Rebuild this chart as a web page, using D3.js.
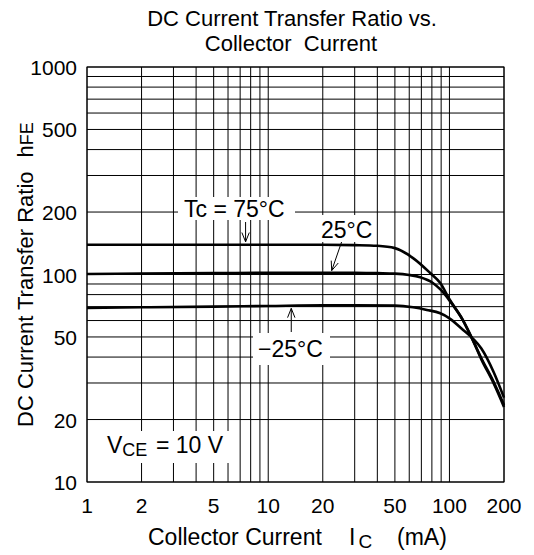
<!DOCTYPE html>
<html>
<head>
<meta charset="utf-8">
<script src="https://d3js.org/d3.v7.min.js"></script>
<style>
  html, body { margin: 0; padding: 0; background: #fff; }
  text { font-family: "Liberation Sans", Arial, sans-serif; fill: #000; }
</style>
</head>
<body>
<div id="chart"></div>
<script>
// collector current (mA) / hFE for each case temperature
const ic75  = [1, 2, 5, 10, 20, 30, 40, 50, 63, 78, 89, 100, 119, 135, 150, 175, 200];
const hfe75 = [139, 139, 139, 139, 139, 138.5, 137.5, 134, 120, 102, 91, 76, 60, 48, 39, 30, 23];

const ic25  = [1, 2, 5, 10, 20, 30, 40, 50, 60, 69, 81, 90, 100, 119, 135, 150, 175, 200];
const hfe25 = [100.5, 101, 101.5, 102, 102, 102, 101.5, 101, 99.5, 97, 91, 84, 75, 60, 48, 39.5, 30.5, 23.5];

const icM25  = [1, 2, 5, 10, 20, 30, 50, 63, 75, 89, 100, 119, 135, 150, 175, 200];
const hfeM25 = [69, 69.5, 70, 70.5, 71, 71, 70.8, 69.5, 67.5, 65, 61.5, 54, 49, 44, 34, 25.5];

const xTicks = [1, 2, 5, 10, 20, 50, 100, 200];
const yTicks = [10, 20, 50, 100, 200, 500, 1000];
const xGrid = [1, 2, 3, 4, 5, 6, 7, 8, 9, 10, 20, 30, 40, 50, 60, 70, 80, 90, 100, 200];
const yGrid = [10, 20, 30, 40, 50, 60, 70, 80, 90, 100, 200, 300, 400, 500, 600, 700, 800, 900, 1000];

const W = 534, H = 555;
const m = { left: 87, right: 30, top: 67, bottom: 73 };

const svg = d3.select('#chart').append('svg')
  .attr('width', W).attr('height', H);

const x = d3.scaleLog().domain([1, 200]).range([m.left, W - m.right]);
const y = d3.scaleLog().domain([10, 1000]).range([H - m.bottom, m.top]);

// grid
const grid = svg.append('g').attr('stroke', '#000').attr('stroke-width', 1);
grid.selectAll('.gx').data(xGrid).join('line')
  .attr('x1', d => x(d)).attr('x2', d => x(d))
  .attr('y1', y(10)).attr('y2', y(1000));
grid.selectAll('.gy').data(yGrid).join('line')
  .attr('y1', d => y(d)).attr('y2', d => y(d))
  .attr('x1', x(1)).attr('x2', x(200));
svg.append('rect')
  .attr('x', x(1)).attr('y', y(1000))
  .attr('width', x(200) - x(1)).attr('height', y(10) - y(1000))
  .attr('fill', 'none').attr('stroke', '#000');

// curves
const line = d3.line()
  .x(d => x(d[0])).y(d => y(d[1]))
  .curve(d3.curveMonotoneX);
const series = [
  d3.zip(ic75, hfe75),
  d3.zip(ic25, hfe25),
  d3.zip(icM25, hfeM25)
];
svg.append('g').selectAll('path').data(series).join('path')
  .attr('d', line)
  .attr('fill', 'none').attr('stroke', '#000').attr('stroke-width', 2.6);

// tick labels
svg.append('g').selectAll('text').data(yTicks).join('text')
  .attr('x', m.left - 10).attr('y', d => y(d) + 8)
  .attr('text-anchor', 'end').attr('font-size', 21)
  .text(d => d);
svg.append('g').selectAll('text').data(xTicks).join('text')
  .attr('x', d => x(d)).attr('y', 513)
  .attr('text-anchor', 'middle').attr('font-size', 21)
  .text(d => d);

// title
svg.append('text').attr('x', 292).attr('y', 26)
  .attr('text-anchor', 'middle').attr('font-size', 22)
  .text('DC Current Transfer Ratio vs.');
svg.append('text').attr('x', 291).attr('y', 51)
  .attr('text-anchor', 'middle').attr('font-size', 22)
  .attr('xml:space', 'preserve')
  .text('Collector  Current');

// axis titles
const xl = svg.append('text').attr('x', 148).attr('y', 545).attr('font-size', 23);
xl.append('tspan').text('Collector Current');
xl.append('tspan').attr('x', 349).text('I');
xl.append('tspan').attr('dx', 3).attr('dy', 3).attr('font-size', 19).text('C');
xl.append('tspan').attr('x', 397).attr('dy', -3).text('(mA)');

const yl = svg.append('text')
  .attr('transform', 'translate(33,427) rotate(-90)')
  .attr('font-size', 22);
yl.append('tspan').text('DC Current Transfer Ratio');
yl.append('tspan').attr('dx', 14).text('h');
yl.append('tspan').attr('font-size', 18).text('FE');

// annotations
function label(bx, by, bw, bh) {
  svg.append('rect').attr('x', bx).attr('y', by)
    .attr('width', bw).attr('height', bh).attr('fill', '#fff');
}
function arrow(x0, y0, x1, y1) {
  const a = Math.atan2(y1 - y0, x1 - x0), L = 10, s = 0.38;
  const p = d3.path();
  p.moveTo(x0, y0); p.lineTo(x1, y1);
  p.moveTo(x1 - L * Math.cos(a - s), y1 - L * Math.sin(a - s));
  p.lineTo(x1, y1);
  p.lineTo(x1 - L * Math.cos(a + s), y1 - L * Math.sin(a + s));
  svg.append('path').attr('d', p.toString())
    .attr('fill', 'none').attr('stroke', '#000').attr('stroke-width', 1);
}

label(178, 197, 117, 23);
svg.append('text').attr('x', 184).attr('y', 217).attr('font-size', 23).text('Tc = 75°C');
arrow(x(7.5), 222, x(7.5), y(139) - 3);

label(318, 215, 58, 27);
svg.append('text').attr('x', 321).attr('y', 238).attr('font-size', 23).text('25°C');
arrow(x(25.4), 242, x(22.4), y(101) - 3);

label(253, 333, 77, 32);
svg.append('text').attr('x', 258).attr('y', 357).attr('font-size', 23).text('\u221225°C');
arrow(x(13.4), 332, x(13.4), y(71) + 3);

label(100, 431, 132, 32);
const vl = svg.append('text').attr('x', 107).attr('y', 453).attr('font-size', 23);
vl.append('tspan').text('V');
vl.append('tspan').attr('font-size', 18).attr('dy', 3).text('CE');
vl.append('tspan').attr('dy', -3).attr('x', 156).text('= 10 V');
</script>
</body>
</html>
